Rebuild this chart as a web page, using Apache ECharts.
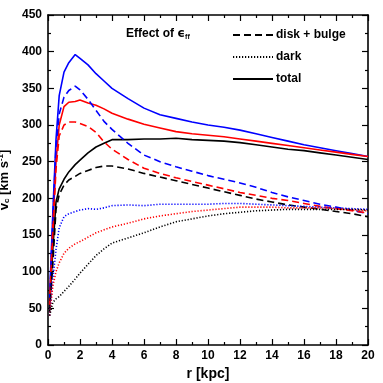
<!DOCTYPE html>
<html>
<head>
<meta charset="utf-8">
<script src="https://cdn.jsdelivr.net/npm/echarts@6/dist/echarts.min.js"></script>
<style>
  html, body { margin: 0; padding: 0; background: #fff; }
  #chart { width: 383px; height: 383px; }
</style>
</head>
<body>
<div id="chart"></div>
<script>
// radius grid (kpc)
var radius = [0.1, 0.3, 0.5, 0.7, 1.0, 1.3, 1.7, 2, 2.5, 3, 3.5, 4, 5, 6, 7, 8, 9, 10, 11, 12, 13, 14, 15, 16, 17, 18, 19, 20];

// total
var blueTotal  = [65, 180, 280, 340, 372, 385, 396, 391, 382, 370, 360, 350, 336, 323, 314, 309, 304, 300, 297, 293, 288, 283, 278, 273, 269, 265, 261, 257];
var redTotal   = [60, 160, 250, 300, 325, 331, 332, 334, 330, 327, 322, 316, 308, 301, 296, 291, 288, 286, 284, 281, 278, 275, 272, 269, 266, 263, 260, 257];
var blackTotal = [50, 130, 195, 213, 226, 236, 246, 252, 262, 270, 275, 280, 280, 281, 281, 282, 280, 279, 278, 276, 273, 270, 267, 265, 262, 259, 256, 253];

// disk + bulge
var blueDisk  = [60, 170, 270, 315, 338, 347, 353, 348, 335, 320, 305, 294, 275, 259, 250, 243, 237, 231, 226, 221, 215, 208, 202, 197, 192, 188, 184, 179];
var redDisk   = [55, 150, 240, 285, 300, 304, 304, 302, 298, 290, 277, 267, 253, 241, 234, 228, 223, 218, 213, 208, 204, 200, 197, 193, 189, 186, 183, 180];
var blackDisk = [45, 110, 185, 205, 218, 225, 230, 234, 238, 242, 244, 244, 240, 234, 229, 224, 219, 214, 209, 204, 199, 195, 191, 188, 185, 182, 179, 175];

// dark
var blueDark  = [40, 90, 130, 160, 175, 179, 182, 184, 186, 185, 187, 190, 191, 190, 192, 192, 192, 192, 193, 193, 192, 191, 190, 189, 188, 187, 186, 185];
var redDark   = [40, 80, 100, 112, 125, 132, 138, 141, 147, 153, 157, 161, 166, 172, 176, 179, 182, 184, 186, 188, 188, 188, 187, 187, 187, 186, 184, 183];
var blackDark = [40, 58, 63, 66, 73, 80, 90, 98, 110, 122, 131, 139, 146, 153, 161, 168, 172, 176, 179, 181, 183, 184, 185, 185, 185, 185, 185, 184];

var xTicks = { min: 0, max: 20, interval: 2 };
var yTicks = { min: 0, max: 450, interval: 50 };

var FONT = 'Liberation Sans';
var DASH = [7, 4];
var DOT = [1.2, 1.8];

function pairs(vals) {
  return radius.map(function (r, i) { return [r, vals[i]]; });
}

function curve(name, vals, color, dash) {
  return {
    name: name,
    type: 'line',
    data: pairs(vals),
    symbol: 'none',
    silent: true,
    lineStyle: { color: color, width: 1.6, type: dash },
    z: 3
  };
}

function legendEntry(name, dash) {
  return {
    name: name,
    type: 'line',
    data: [],
    symbol: 'none',
    lineStyle: { color: '#000', width: 1.6, type: dash },
    itemStyle: { color: '#000' }
  };
}

function xAxisOf(pos, labels) {
  return {
    type: 'value', position: pos, min: xTicks.min, max: xTicks.max, interval: xTicks.interval,
    name: labels ? 'r [kpc]' : '', nameLocation: 'middle', nameGap: 20,
    nameTextStyle: { fontFamily: FONT, fontWeight: 'bold', fontSize: 14, color: '#000' },
    axisLine: { show: true, onZero: false, lineStyle: { color: '#000', width: 1.6 } },
    axisTick: { show: true, inside: true, length: 6, lineStyle: { color: '#000', width: 1.2 } },
    minorTick: { show: true, splitNumber: 2, length: 3, lineStyle: { color: '#000', width: 1.2 } },
    axisLabel: { show: labels, fontFamily: FONT, fontWeight: 'bold', fontSize: 12, color: '#000', margin: 5 },
    splitLine: { show: false }
  };
}

function yAxisOf(pos, labels) {
  return {
    type: 'value', position: pos, min: yTicks.min, max: yTicks.max, interval: yTicks.interval,
    name: labels ? '{n|v}{s|c}{n| [km s}{p|-1}{n|]}' : '', nameLocation: 'middle', nameGap: 36,
    nameRotate: 90,
    nameTextStyle: {
      color: '#000',
      rich: {
        n: { fontFamily: FONT, fontWeight: 'bold', fontSize: 13, color: '#000' },
        s: { fontFamily: FONT, fontWeight: 'bold', fontSize: 8, color: '#000', padding: [6, 0, 0, 0] },
        p: { fontFamily: FONT, fontWeight: 'bold', fontSize: 8, color: '#000', padding: [0, 0, 7, 0] }
      }
    },
    axisLine: { show: true, onZero: false, lineStyle: { color: '#000', width: 1.6 } },
    axisTick: { show: true, inside: true, length: 6, lineStyle: { color: '#000', width: 1.2 } },
    minorTick: { show: true, splitNumber: 2, length: 3, lineStyle: { color: '#000', width: 1.2 } },
    axisLabel: { show: labels, fontFamily: FONT, fontWeight: 'bold', fontSize: 12, color: '#000', margin: 6 },
    splitLine: { show: false }
  };
}

var chart = echarts.init(document.getElementById('chart'), null, { renderer: 'canvas' });
chart.setOption({
  animation: false,
  backgroundColor: '#fff',
  grid: { left: 48, right: 15, top: 15, bottom: 38, containLabel: false, outerBoundsMode: 'none' },
  title: {
    text: '{a|Effect of }{e|ϵ}{f|ff}',
    left: 126, top: 27, padding: 0,
    textStyle: {
      rich: {
        a: { fontFamily: FONT, fontWeight: 'bold', fontSize: 12, color: '#000' },
        e: { fontFamily: 'DejaVu Sans', fontWeight: 'bold', fontSize: 12, color: '#000' },
        f: { fontFamily: FONT, fontWeight: 'bold', fontSize: 7, color: '#000', padding: [7, 0, 0, 0] }
      }
    }
  },
  legend: {
    orient: 'vertical',
    left: 232, top: 29, padding: 0,
    itemWidth: 40, itemHeight: 12, itemGap: 10,
    selectedMode: false,
    itemStyle: { opacity: 0 },
    textStyle: { fontFamily: FONT, fontWeight: 'bold', fontSize: 12, color: '#000', padding: [0, 0, 0, -2] },
    data: ['disk + bulge', 'dark', 'total']
  },
  xAxis: [xAxisOf('bottom', true), xAxisOf('top', false)],
  yAxis: [yAxisOf('left', true), yAxisOf('right', false)],
  series: [
    curve('blue total', blueTotal, '#0000ff', 'solid'),
    curve('red total', redTotal, '#ff0000', 'solid'),
    curve('black total', blackTotal, '#000000', 'solid'),
    curve('blue disk', blueDisk, '#0000ff', DASH),
    curve('red disk', redDisk, '#ff0000', DASH),
    curve('black disk', blackDisk, '#000000', DASH),
    curve('blue dark', blueDark, '#0000ff', DOT),
    curve('red dark', redDark, '#ff0000', DOT),
    curve('black dark', blackDark, '#000000', DOT),
    legendEntry('disk + bulge', DASH),
    legendEntry('dark', DOT),
    legendEntry('total', 'solid')
  ]
});
</script>
</body>
</html>
